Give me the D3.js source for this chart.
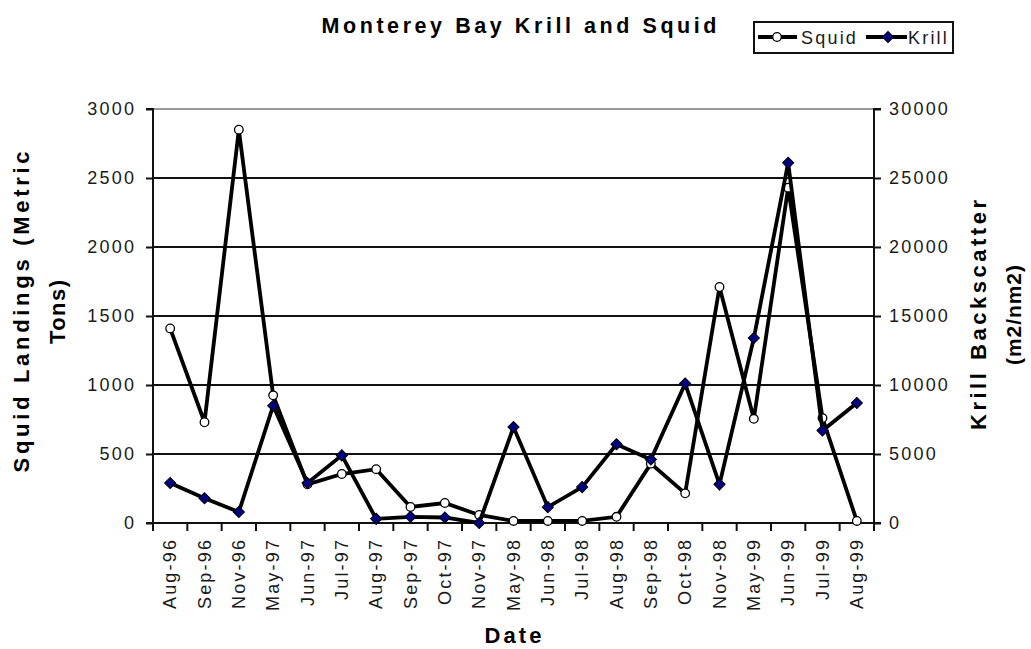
<!DOCTYPE html>
<html>
<head>
<meta charset="utf-8">
<script src="https://cdn.jsdelivr.net/npm/d3@7/dist/d3.min.js"></script>
<style>
  html, body { margin: 0; padding: 0; background: #fff; }
  svg { display: block; font-family: "Liberation Sans", Arial, sans-serif; }
</style>
</head>
<body>
<svg id="chart" width="1031" height="649"></svg>
<script>
// Sampling dates (category axis)
const dates = ["Aug-96","Sep-96","Nov-96","May-97","Jun-97","Jul-97","Aug-97","Sep-97","Oct-97","Nov-97",
               "May-98","Jun-98","Jul-98","Aug-98","Sep-98","Oct-98","Nov-98","May-99","Jun-99","Jul-99","Aug-99"];
// Squid landings, metric tons (left axis)
const squid = [1410, 730, 2850, 925, 280, 355, 390, 116, 145, 58,
               15, 15, 15, 45, 430, 215, 1710, 755, 2430, 760, 15];
// Krill backscatter, m2/nm2 (right axis)
const krill = [2900, 1800, 800, 8500, 2900, 4900, 300, 450, 400, 0,
               6950, 1150, 2600, 5700, 4600, 10100, 2800, 13400, 26100, 6700, 8700];
const leftTicks = [0, 500, 1000, 1500, 2000, 2500, 3000];
const rightTicks = [0, 5000, 10000, 15000, 20000, 25000, 30000];

const svg = d3.select("#chart");
const plot = { left: 153, right: 874, top: 109, bottom: 523 };
const FONT = "'Liberation Sans', Arial, sans-serif";
const LS = 2.2; // letter spacing of the regular labels

const x = d3.scaleBand().domain(dates).range([plot.left, plot.right]);
const yL = d3.scaleLinear().domain([0, 3000]).range([plot.bottom, plot.top]);
const yR = d3.scaleLinear().domain([0, 30000]).range([plot.bottom, plot.top]);
const cx = d => x(d) + x.bandwidth() / 2;

// Horizontal gridlines (top one lighter)
svg.append("g").selectAll("line").data(leftTicks.filter(v => v > 0)).join("line")
  .attr("x1", plot.left).attr("x2", plot.right)
  .attr("y1", d => yL(d)).attr("y2", d => yL(d))
  .attr("stroke", d => d === 3000 ? "#9a9a9a" : "#111").attr("stroke-width", 2);

// Left axis
const gL = svg.append("g").attr("transform", `translate(${plot.left},0)`)
  .call(d3.axisLeft(yL).tickValues(leftTicks).tickSize(7).tickPadding(12 - LS).tickFormat(d3.format("d")));
// Right axis
const gR = svg.append("g").attr("transform", `translate(${plot.right},0)`)
  .call(d3.axisRight(yR).tickValues(rightTicks).tickSize(7).tickPadding(8).tickFormat(d3.format("d")));
// Bottom axis: ticks sit between categories
const gB = svg.append("g").attr("transform", `translate(0,${plot.bottom})`)
  .call(d3.axisBottom(x).tickSize(0).tickPadding(0));
gB.selectAll(".tick line").remove();
gB.selectAll(".tick text")
  .attr("transform", "rotate(-90)")
  .attr("text-anchor", "end")
  .attr("dy", "0.35em")
  .attr("x", -17 + LS).attr("y", 0);
gB.append("g").selectAll("line").data(d3.range(dates.length + 1)).join("line")
  .attr("x1", i => plot.left + i * x.step()).attr("x2", i => plot.left + i * x.step())
  .attr("y1", 0).attr("y2", 8).attr("stroke", "#111").attr("stroke-width", 2);

[gL, gR, gB].forEach(g => {
  g.select(".domain").attr("stroke", "#111").attr("stroke-width", 2);
  g.selectAll(".tick line").attr("stroke", "#111").attr("stroke-width", 2);
  g.selectAll("text").attr("fill", "#1a1a1a").attr("font-size", 18)
    .attr("letter-spacing", LS).attr("font-family", FONT);
});
gL.select(".domain").attr("d", `M-7,${plot.top}H0V${plot.bottom}H-7`);
gR.select(".domain").attr("d", `M7,${plot.top}H0V${plot.bottom}H7`);
gB.select(".domain").attr("d", `M${plot.left},0H${plot.right}`);

// Series lines
const lineL = d3.line().x((d, i) => cx(dates[i])).y(d => yL(d));
const lineR = d3.line().x((d, i) => cx(dates[i])).y(d => yR(d));
const diamond = d3.symbol().type(d3.symbolSquare).size(62);

svg.append("path").datum(squid).attr("d", lineL)
  .attr("fill", "none").attr("stroke", "#000").attr("stroke-width", 3.8);
svg.append("g").selectAll("circle").data(squid).join("circle")
  .attr("cx", (d, i) => cx(dates[i])).attr("cy", d => yL(d)).attr("r", 4.3)
  .attr("fill", "#fff").attr("stroke", "#000").attr("stroke-width", 1.3);

svg.append("path").datum(krill).attr("d", lineR)
  .attr("fill", "none").attr("stroke", "#000").attr("stroke-width", 3.8);
svg.append("g").selectAll("path").data(krill).join("path")
  .attr("d", diamond)
  .attr("transform", (d, i) => `translate(${cx(dates[i])},${yR(d)}) rotate(45)`)
  .attr("fill", "#000080").attr("stroke", "#000").attr("stroke-width", 1);

// Title
svg.append("text").attr("x", 519).attr("y", 33).attr("text-anchor", "middle")
  .attr("font-size", 21.5).attr("font-weight", "bold").attr("fill", "#000")
  .attr("textLength", 395).attr("lengthAdjust", "spacing")
  .text("Monterey Bay Krill and Squid");

// Axis titles
svg.append("text").attr("x", 513).attr("y", 643).attr("text-anchor", "middle")
  .attr("font-size", 22).attr("font-weight", "bold")
  .attr("textLength", 57).attr("lengthAdjust", "spacing").text("Date");

const lt = svg.append("g").attr("transform", "translate(0,312) rotate(-90)");
lt.append("text").attr("x", 0).attr("y", 29).attr("text-anchor", "middle")
  .attr("font-size", 22).attr("font-weight", "bold")
  .attr("textLength", 321).attr("lengthAdjust", "spacing").text("Squid Landings (Metric");
lt.append("text").attr("x", 0).attr("y", 65).attr("text-anchor", "middle")
  .attr("font-size", 22).attr("font-weight", "bold")
  .attr("textLength", 64).attr("lengthAdjust", "spacing").text("Tons)");

const rt = svg.append("g").attr("transform", "translate(0,315) rotate(-90)");
rt.append("text").attr("x", 0).attr("y", 986).attr("text-anchor", "middle")
  .attr("font-size", 22).attr("font-weight", "bold")
  .attr("textLength", 230).attr("lengthAdjust", "spacing").text("Krill Backscatter");
rt.append("text").attr("x", 0).attr("y", 1021).attr("text-anchor", "middle")
  .attr("font-size", 21).attr("font-weight", "bold")
  .attr("textLength", 100).attr("lengthAdjust", "spacing").text("(m2/nm2)");

// Legend
const lg = svg.append("g").attr("transform", "translate(754,22)");
lg.append("rect").attr("x", 0).attr("y", 0).attr("width", 199).attr("height", 31)
  .attr("fill", "#fff").attr("stroke", "#111").attr("stroke-width", 2);
lg.append("line").attr("x1", 4).attr("x2", 43).attr("y1", 15).attr("y2", 15)
  .attr("stroke", "#000").attr("stroke-width", 3.8);
lg.append("circle").attr("cx", 23).attr("cy", 15).attr("r", 4.3)
  .attr("fill", "#fff").attr("stroke", "#000").attr("stroke-width", 1.3);
lg.append("text").attr("x", 47).attr("y", 22).attr("font-size", 18)
  .attr("letter-spacing", LS).attr("fill", "#1a1a1a").text("Squid");
lg.append("line").attr("x1", 112).attr("x2", 153).attr("y1", 15).attr("y2", 15)
  .attr("stroke", "#000").attr("stroke-width", 3.8);
lg.append("path").attr("d", diamond)
  .attr("transform", "translate(134,15) rotate(45)")
  .attr("fill", "#000080").attr("stroke", "#000").attr("stroke-width", 1);
lg.append("text").attr("x", 154).attr("y", 22).attr("font-size", 18)
  .attr("letter-spacing", LS).attr("fill", "#1a1a1a").text("Krill");
</script>
</body>
</html>
